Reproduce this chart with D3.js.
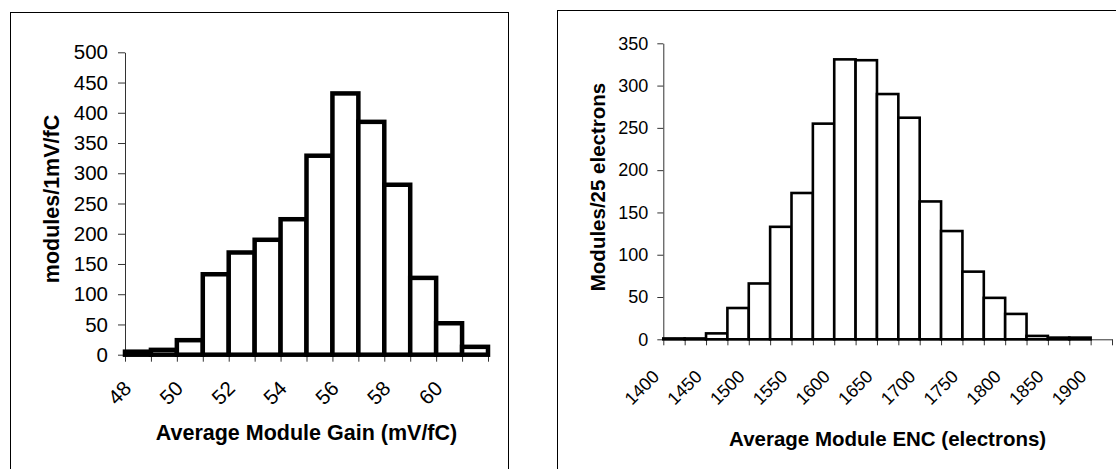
<!DOCTYPE html>
<html>
<head>
<meta charset="utf-8">
<script src="https://cdn.jsdelivr.net/npm/d3@7"></script>
<style>
  body { margin: 0; background: #fff; }
  svg { display: block; font-family: "Liberation Sans", Arial, sans-serif; }
</style>
</head>
<body>
<svg id="chart" width="1116" height="469"></svg>
<script>
// Gain histogram (1 mV/fC bins)
var gainBins = [48, 49, 50, 51, 52, 53, 54, 55, 56, 57, 58, 59, 60, 61];
var gainCounts = [5, 8, 24, 133, 169, 190, 224, 329, 432, 385, 281, 127, 52, 13];
var gainTicks = [48, 50, 52, 54, 56, 58, 60];
var gainYTicks = [0, 50, 100, 150, 200, 250, 300, 350, 400, 450, 500];

// ENC histogram (25 electron bins)
var encBins = [1400, 1425, 1450, 1475, 1500, 1525, 1550, 1575, 1600, 1625, 1650,
               1675, 1700, 1725, 1750, 1775, 1800, 1825, 1850, 1875, 1900];
var encCounts = [1, 1, 7, 37, 66, 133, 173, 255, 331, 330, 290,
                 262, 163, 128, 80, 49, 30, 4, 2, 2, 0];
var encTicks = [1400, 1450, 1500, 1550, 1600, 1650, 1700, 1750, 1800, 1850, 1900];
var encYTicks = [0, 50, 100, 150, 200, 250, 300, 350];

var svg = d3.select("#chart");

// panel frames
svg.append("rect").attr("x", 10.5).attr("y", 12.5).attr("width", 498).attr("height", 480)
    .attr("fill", "none").attr("stroke", "#000").attr("stroke-width", 1);
svg.append("rect").attr("x", 557.5).attr("y", 10.5).attr("width", 600).attr("height", 480)
    .attr("fill", "none").attr("stroke", "#000").attr("stroke-width", 1);

function drawHist(o) {
    var x = d3.scaleLinear().domain(o.xDomain).range(o.xRange);
    var y = d3.scaleLinear().domain(o.yDomain).range(o.yRange);
    var g = svg.append("g");

    // y axis
    g.append("g")
        .attr("transform", "translate(" + o.xRange[0] + ",0)")
        .call(d3.axisLeft(y).tickValues(o.yTicks).tickSize(o.tick).tickSizeOuter(0).tickPadding(o.pad))
        .call(a => a.selectAll("path, line").attr("stroke", "#333"))
        .call(a => a.selectAll("text").attr("font-size", o.fs).attr("fill", "#000")
            .attr("font-family", "Liberation Sans, Arial, sans-serif"));

    // x axis: a tick on every bin edge, labels on some
    var edges = d3.range(o.xDomain[0], o.xDomain[1] + o.bw / 2, o.bw);
    g.append("g")
        .attr("transform", "translate(0," + o.yRange[0] + ")")
        .call(d3.axisBottom(x).tickValues(edges).tickSize(o.tick).tickSizeOuter(0)
            .tickFormat(d => o.xTicks.indexOf(d) >= 0 ? d : ""))
        .call(a => a.selectAll("path, line").attr("stroke", "#333"))
        .call(a => a.selectAll("text")
            .attr("font-size", o.fs).attr("fill", "#000")
            .attr("font-family", "Liberation Sans, Arial, sans-serif")
            .attr("text-anchor", "end")
            .attr("y", 0).attr("dy", ".35em")
            .attr("transform", "translate(" + o.lab[0] + "," + o.lab[1] + ") rotate(-45)"));

    // bars
    g.append("g").selectAll("rect")
        .data(o.bins.map((b, i) => ({ b: b, v: o.counts[i] })).filter(d => d.v > 0))
        .enter().append("rect")
            .attr("x", d => x(d.b))
            .attr("width", d => x(d.b + o.bw) - x(d.b))
            .attr("y", d => y(d.v))
            .attr("height", d => y(0) - y(d.v))
            .attr("fill", "#fff")
            .attr("stroke", "#000")
            .attr("stroke-width", o.sw);

    // axis titles
    g.append("text")
        .attr("x", (o.xRange[0] + o.xRange[1]) / 2).attr("y", o.xTitleY)
        .attr("text-anchor", "middle").attr("dy", ".35em")
        .attr("font-size", o.tfs).attr("font-weight", "bold")
        .text(o.xTitle);
    g.append("text")
        .attr("transform", "translate(" + o.yTitleX + "," + o.yTitleY + ") rotate(-90)")
        .attr("text-anchor", "middle").attr("dy", ".35em")
        .attr("font-size", o.tfs).attr("font-weight", "bold")
        .text(o.yTitle);
}

drawHist({
    bins: gainBins, counts: gainCounts, bw: 1,
    xDomain: [48, 62], xRange: [125, 488],
    yDomain: [0, 500], yRange: [354.7, 52.3],
    xTicks: gainTicks, yTicks: gainYTicks,
    tick: 7, pad: 10, fs: 20.5, tfs: 21.5, sw: 4.5, lab: [2, 30],
    xTitle: "Average Module Gain (mV/fC)", xTitleY: 432,
    yTitle: "modules/1mV/fC", yTitleX: 51, yTitleY: 199
});

drawHist({
    bins: encBins, counts: encCounts, bw: 25,
    xDomain: [1400, 1925], xRange: [663.3, 1112],
    yDomain: [0, 350], yRange: [339.3, 43.3],
    xTicks: encTicks, yTicks: encYTicks,
    tick: 6, pad: 9, fs: 18, tfs: 20.5, sw: 2.6, lab: [-8, 34],
    xTitle: "Average Module ENC (electrons)", xTitleY: 439,
    yTitle: "Modules/25 electrons", yTitleX: 598, yTitleY: 187
});
</script>
</body>
</html>
